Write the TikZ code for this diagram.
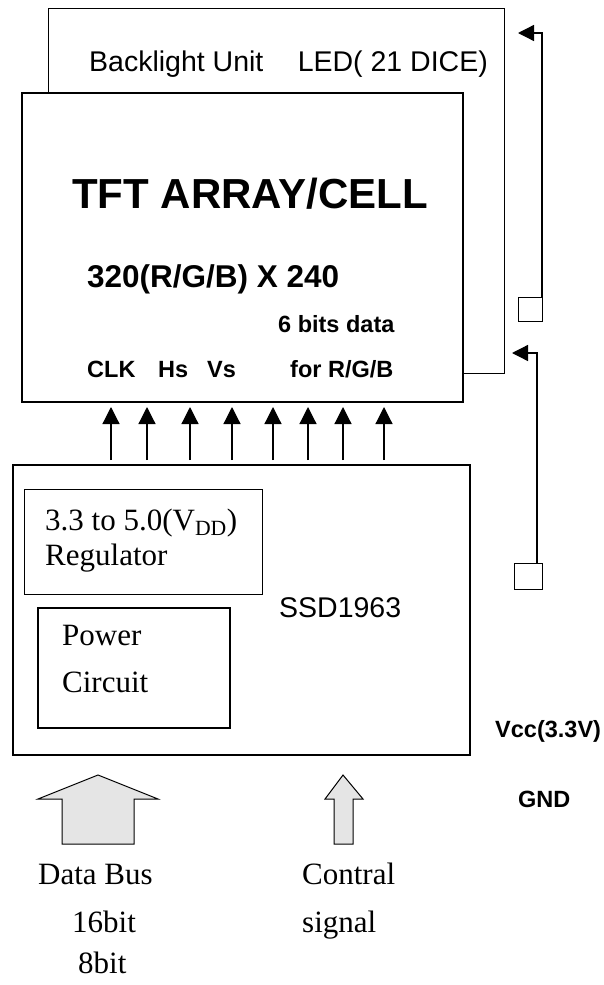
\documentclass[tikz,border=0pt]{standalone}
\usepackage{fontspec}
\setmainfont{Liberation Serif}
\setsansfont{Liberation Sans}
\usetikzlibrary{arrows.meta}

\tikzset{
  thinbox/.style={draw, line width=1pt, inner sep=0pt, outer sep=0pt, anchor=north west},
  thickbox/.style={draw, line width=2.3pt, fill=white, inner sep=0pt, outer sep=0pt, anchor=north west},
  txt/.style={inner sep=0pt, anchor=base west},
  plain/.style={txt, font=\sffamily\fontsize{28.5}{30}\selectfont},
  title/.style={txt, font=\sffamily\bfseries\fontsize{42}{44}\selectfont},
  res/.style={txt, font=\sffamily\bfseries\fontsize{31.5}{33}\selectfont},
  sig/.style={txt, font=\sffamily\bfseries\fontsize{23.5}{25}\selectfont},
  serif/.style={txt, font=\rmfamily\fontsize{31}{33}\selectfont},
  bus/.style={-{Triangle[width=17pt,length=17pt]}, line width=1.2pt, shorten <=5pt, shorten >=5pt},
  pwr/.style={-{Triangle[width=16pt,length=16pt]}, line width=1.3pt},
  hollow/.style={draw, line width=1pt, fill=gray!20}
}

\begin{document}
\begin{tikzpicture}[x=1pt,y=-1pt]
  \useasboundingbox (0,0) rectangle (603,985);

  \node[thinbox, minimum width=456pt, minimum height=365pt] (backlight) at (48,8) {};
  \node[thickbox, minimum width=441pt, minimum height=309pt] (tft) at (22,93) {};
  \node[thickbox, minimum width=457pt, minimum height=290pt] (ssd) at (13,465) {};
  \node[thinbox, minimum width=238pt, minimum height=105pt] (reg) at (24,489) {};
  \node[thickbox, minimum width=192pt, minimum height=120pt] (power) at (38,608) {};
  \node[thinbox, minimum size=24pt] (sq1) at (518,297) {};
  \node[thinbox, minimum width=28pt, minimum height=26pt] (sq2) at (514,563) {};

  \node[plain] (blu) at (89,71) {Backlight Unit};
  \node[plain, anchor=base east] (led) at (488,71) {LED( 21 DICE)};
  \node[title] (cell) at (72,208) {TFT ARRAY/CELL};
  \node[res] (resol) at (87,287) {320(R/G/B) X 240};
  \node[sig] (bits) at (278,332) {6 bits data};
  \node[sig] (clk) at (87,377) {CLK};
  \node[sig] (hs) at (158,377) {Hs};
  \node[sig] (vs) at (207,377) {Vs};
  \node[sig] (rgb) at (290,377) {for R/G/B};
  \node[serif] (vdd) at (45,530) {3.3 to 5.0(V\textsubscript{DD})};
  \node[serif] (regtxt) at (45,565) {Regulator};
  \node[plain] (chip) at (279,617) {SSD1963};
  \node[serif] (pwtxt) at (62,645) {Power};
  \node[serif] (circ) at (62,692) {Circuit};
  \node[sig] (vcc) at (495,737) {Vcc(3.3V)};
  \node[sig] (gnd) at (518,807) {GND};
  \node[serif] (dbus) at (38,884) {Data Bus};
  \node[serif] (b16) at (72,932) {16bit};
  \node[serif] (b8) at (78,973) {8bit};
  \node[serif] (ctl) at (302,884) {Contral};
  \node[serif] (sgn) at (302,932) {signal};

  \coordinate (tip1) at (518,33);
  \coordinate (tip2) at (512,353);

  \path[bus] (111,0 |- ssd.north) edge (111,0 |- tft.south);
  \path[bus] (147,0 |- ssd.north) edge (147,0 |- tft.south);
  \path[bus] (190,0 |- ssd.north) edge (190,0 |- tft.south);
  \path[bus] (232,0 |- ssd.north) edge (232,0 |- tft.south);
  \path[bus] (273,0 |- ssd.north) edge (273,0 |- tft.south);
  \path[bus] (308,0 |- ssd.north) edge (308,0 |- tft.south);
  \path[bus] (343,0 |- ssd.north) edge (343,0 |- tft.south);
  \path[bus] (384,0 |- ssd.north) edge (384,0 |- tft.south);

  \draw[pwr] (sq1.north east) |- (tip1);
  \draw[pwr] ([xshift=-5pt]sq2.north east) |- (tip2);

  \draw[hollow] (62,844) -- (62,799) -- (38,799) -- (98,775) -- (158,799) -- (134,799) -- (134,844) -- cycle;
  \draw[hollow] (334,844) -- (334,799) -- (325,799) -- (343,775) -- (363,799) -- (353,799) -- (353,844) -- cycle;
\end{tikzpicture}
\end{document}
